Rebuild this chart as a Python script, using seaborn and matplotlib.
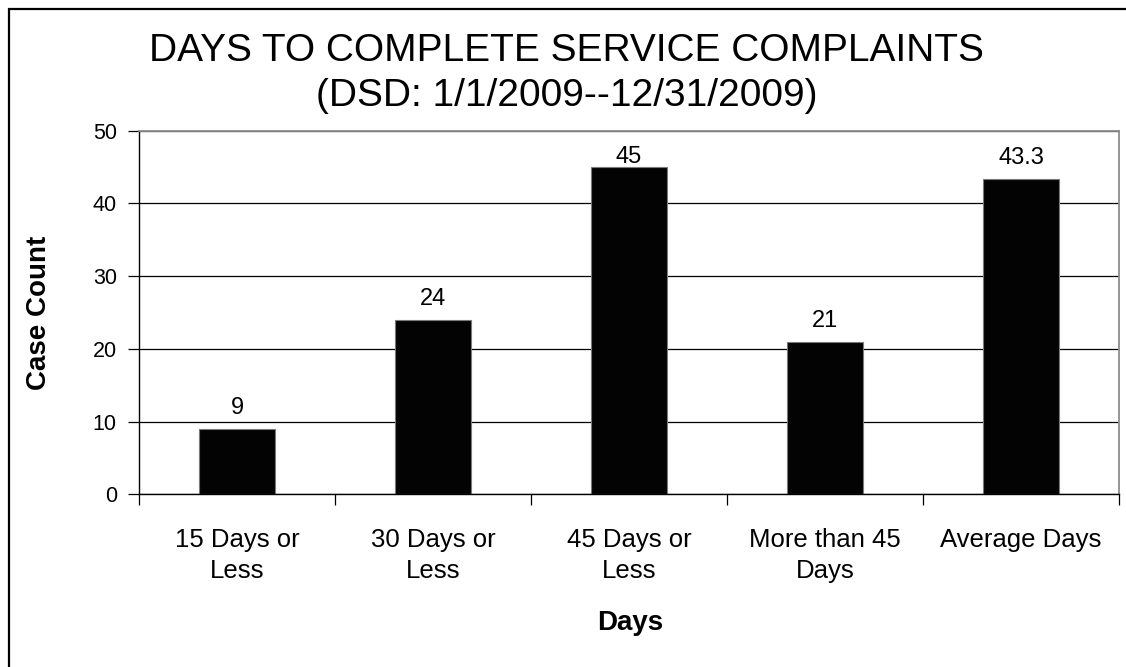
import matplotlib
matplotlib.use("Agg")
import matplotlib.pyplot as plt
from matplotlib.patches import Rectangle
import seaborn as sns
import pandas as pd

# ---- data ----
categories = ["15 Days or\nLess", "30 Days or\nLess", "45 Days or\nLess",
              "More than 45\nDays", "Average Days"]
case_counts = [9, 24, 45, 21, 43.3]
title_line1 = "DAYS TO COMPLETE SERVICE COMPLAINTS"
title_line2 = "(DSD: 1/1/2009--12/31/2009)"
y_ticks = [0, 10, 20, 30, 40, 50]
x_label = "Days"
y_label = "Case Count"

sns.set_theme(style="white")
plt.rcParams["font.family"] = ["Liberation Sans", "DejaVu Sans"]

W, H = 1126, 667
fig = plt.figure(figsize=(W / 100, H / 100), dpi=100)
fig.patch.set_facecolor("white")

left, right, top, bottom = 139, 1119, 130.7, 494.3
ax = fig.add_axes([left / W, 1 - bottom / H, (right - left) / W, (bottom - top) / H])

df = pd.DataFrame({"cat": categories, "val": case_counts})
sns.barplot(data=df, x="cat", y="val", color="#030303", saturation=1,
            width=0.39, edgecolor="#7a7a7a", linewidth=0.8, ax=ax)

ax.set_xlim(-0.5, len(categories) - 0.5)
ax.set_ylim(y_ticks[0], y_ticks[-1])
ax.set_yticks(y_ticks)
ax.set_xlabel("")
ax.set_ylabel("")

ax.set_axisbelow(True)
ax.yaxis.grid(True, color="black", linewidth=0.9)
ax.xaxis.grid(False)

for s in ["left", "bottom"]:
    ax.spines[s].set_color("black")
    ax.spines[s].set_linewidth(1.0)
for s in ["top", "right"]:
    ax.spines[s].set_color("#8c8c8c")
    ax.spines[s].set_linewidth(1.3)

# ticks
ax.tick_params(axis="y", which="major", left=True, length=8, width=0.9,
               color="black", direction="out", pad=8, labelsize=15.5)
ax.tick_params(axis="x", which="major", bottom=True, length=0, pad=24,
               labelsize=18.5)
ax.set_xticks([i - 0.5 for i in range(len(categories) + 1)], minor=True)
ax.tick_params(axis="x", which="minor", bottom=True, length=8, width=0.9,
               color="black", direction="out")
for lbl in ax.get_xticklabels():
    lbl.set_linespacing(1.4)
    lbl.set_color("black")
for lbl in ax.get_yticklabels():
    lbl.set_color("black")

# value labels
px_per_unit = (bottom - top) / (y_ticks[-1] - y_ticks[0])
offset = 15 / px_per_unit
clamp = y_ticks[-1] - 32 / px_per_unit
for i, v in enumerate(case_counts):
    ax.text(i, min(v + offset, clamp), f"{v:g}", ha="center", va="baseline",
            fontsize=17, color="black")

# titles
fig.text(0.503, 1 - 61 / H, title_line1, ha="center", va="baseline",
         fontsize=28, color="black")
fig.text(0.503, 1 - 106 / H, title_line2, ha="center", va="baseline",
         fontsize=28, color="black")

# axis labels
fig.text(39 / W, 1 - 313 / H, y_label, rotation=90, ha="center", va="center",
         fontsize=20, fontweight="bold", color="black")
fig.text(630 / W, 1 - 630 / H, x_label, ha="center", va="baseline",
         fontsize=20, fontweight="bold", color="black")

# outer frame (cropped at right and bottom)
fig.patches.append(Rectangle((9 / W, -0.5), 2, 0.5 + 1 - 9 / H,
                             transform=fig.transFigure, fill=False,
                             linewidth=1.6, edgecolor="black"))

fig.savefig("out.png", dpi=100)
